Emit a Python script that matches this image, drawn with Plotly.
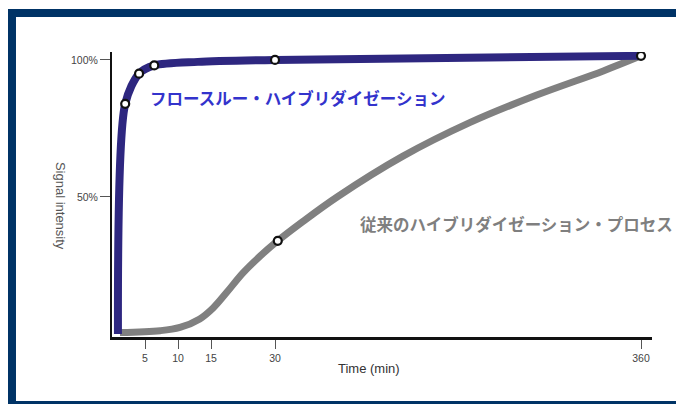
import numpy as np
import plotly.graph_objects as go

# ---- data ----
tick_times = [5, 10, 15, 30, 360]
tick_labels = ["5", "10", "15", "30", "360"]
y_tick_vals = [50, 100]
y_tick_labels = ["50%", "100%"]

flow_time = [0.9, 2.0, 4.1, 6.4, 13.0, 30.0, 360.0]
flow_signal = [0.0, 84.0, 95.0, 98.0, 99.3, 100.0, 101.5]
flow_marker_time = [2.0, 4.1, 6.4, 30.0, 360.0]
flow_marker_signal = [84.0, 95.0, 98.0, 100.0, 101.5]

conv_time = [1.2, 7.3, 10.3, 13.3, 15.5, 18.75, 22.5, 26.5, 32.5, 55.0, 86.0, 145.0, 206.0, 266.0, 326.0, 360.0]
conv_signal = [0.5, 1.2, 2.4, 5.5, 9.5, 15.3, 22.3, 28.4, 34.0, 41.0, 50.0, 64.8, 77.2, 87.2, 96.0, 101.5]
conv_marker_time = [32.5]
conv_marker_signal = [34.0]

label_flow = "フロースルー・ハイブリダイゼーション"
label_conv = "従来のハイブリダイゼーション・プロセス"

# ---- broken time scale of the original axis ----
scale_time = [0, 15, 30, 360]
scale_pos = [0, 99, 163, 529]


def to_axis(t):
    return np.interp(np.asarray(t, dtype=float), scale_time, scale_pos)


BLUE = "#2e2780"
GRAY = "#808080"

fig = go.Figure()
fig.add_trace(go.Scatter(
    x=to_axis(conv_time), y=conv_signal, mode="lines",
    line=dict(color=GRAY, width=7, shape="spline", smoothing=1.0),
    hoverinfo="skip"))
fig.add_trace(go.Scatter(
    x=to_axis(flow_time), y=flow_signal, mode="lines",
    line=dict(color=BLUE, width=8, shape="spline", smoothing=0.8),
    hoverinfo="skip"))
fig.add_trace(go.Scatter(
    x=to_axis(flow_marker_time), y=flow_marker_signal, mode="markers",
    marker=dict(size=8, color="white", line=dict(color="#111111", width=2.2))))
fig.add_trace(go.Scatter(
    x=to_axis(conv_marker_time), y=conv_marker_signal, mode="markers",
    marker=dict(size=8, color="white", line=dict(color="#111111", width=2.2))))

tickfont = dict(family="Liberation Sans, Arial, sans-serif", size=10.5, color="#444444")

fig.update_layout(
    width=684, height=404,
    margin=dict(l=104, r=40, t=44, b=75),
    paper_bgcolor="white", plot_bgcolor="white",
    showlegend=False,
    xaxis=dict(range=[0, 540], showgrid=False, zeroline=False,
               showline=True, linecolor="#111111", linewidth=3,
               ticks="outside", ticklen=9, tickwidth=1, tickcolor="#555555",
               tickvals=list(to_axis(tick_times)), ticktext=tick_labels,
               tickfont=tickfont, fixedrange=True),
    yaxis=dict(range=[-1.1, 102.9], showgrid=False, zeroline=False,
               showline=True, linecolor="#111111", linewidth=2,
               ticks="outside", ticklen=10, tickwidth=1, tickcolor="#555555",
               tickvals=y_tick_vals, ticktext=y_tick_labels,
               tickfont=tickfont, fixedrange=True),
    shapes=[dict(type="rect", xref="paper", yref="paper",
                 x0=-0.1852, x1=1.08, y0=-0.2386, y1=1.1368,
                 line=dict(color="#003366", width=8), fillcolor="rgba(0,0,0,0)",
                 layer="above")],
    annotations=[
        dict(text=label_flow, x=36, y=86, xref="x", yref="y",
             xanchor="left", yanchor="middle", showarrow=False,
             font=dict(family="Noto Sans CJK JP", size=16.5, color="#3333cc", weight="bold")),
        dict(text=label_conv, x=246, y=40, xref="x", yref="y",
             xanchor="left", yanchor="middle", showarrow=False,
             font=dict(family="Noto Sans CJK JP", size=16.5, color="#7f7f7f", weight="bold")),
        dict(text="Signal intensity", x=-0.0963, y=0.46, xref="paper", yref="paper",
             textangle=90, showarrow=False, xanchor="center", yanchor="middle",
             font=dict(family="Liberation Sans, Arial, sans-serif", size=13, color="#555555")),
        dict(text="Time (min)", x=0.476, y=-0.109, xref="paper", yref="paper",
             showarrow=False, xanchor="center", yanchor="middle",
             font=dict(family="Liberation Sans, Arial, sans-serif", size=13, color="#333333")),
    ],
)

fig.write_html("out.html")
